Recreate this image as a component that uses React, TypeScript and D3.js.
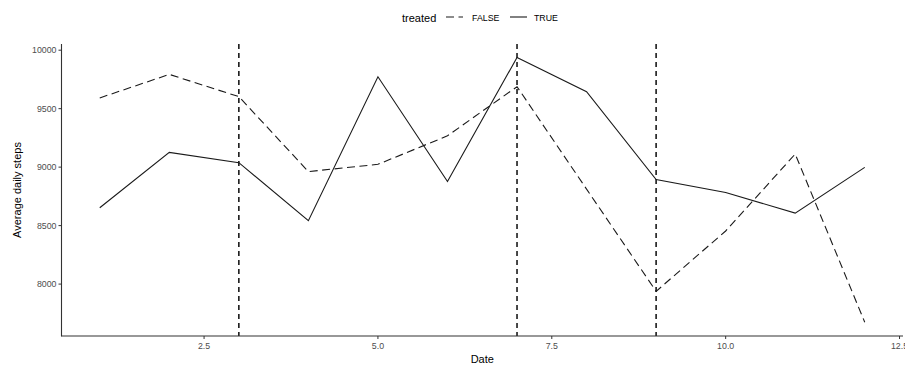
import React from "react";
import * as d3 from "d3";

const days = [1, 2, 3, 4, 5, 6, 7, 8, 9, 10, 11, 12];
const falseSteps = [9592, 9793, 9603, 8962, 9024, 9268, 9688, 8812, 7938, 8454, 9112, 7674];
const trueSteps = [8653, 9126, 9038, 8542, 9773, 8877, 9938, 9645, 8894, 8783, 8607, 8998];
const eventDays = [3, 7, 9];
const xTicks = [2.5, 5.0, 7.5, 10.0, 12.5];
const yTicks = [8000, 8500, 9000, 9500, 10000];
const seriesNames = ["FALSE", "TRUE"];

const W = 905;
const H = 369;
const left = 61.5;
const right = 903;
const top = 44;
const bottom = 336;
const FONT = "'Liberation Sans', Arial, Helvetica, sans-serif";

export default function App() {
  const x = d3.scaleLinear().domain([0.45, 12.55]).range([left, right]);
  const y = d3.scaleLinear().domain([7556, 10053]).range([bottom, top]);
  const line = d3
    .line<[number, number]>()
    .x((d) => x(d[0]))
    .y((d) => y(d[1]));
  const fPts = days.map((d, i) => [d, falseSteps[i]] as [number, number]);
  const tPts = days.map((d, i) => [d, trueSteps[i]] as [number, number]);

  return (
    <svg
      width={W}
      height={H}
      style={{ position: "absolute", left: 0, top: 0, background: "#fff" }}
      fontFamily={FONT}
    >
      {/* lines */}
      <path d={line(fPts) || ""} fill="none" stroke="#1a1a1a" strokeWidth={1.1} strokeDasharray="8,4.5" />
      <path d={line(tPts) || ""} fill="none" stroke="#1a1a1a" strokeWidth={1.1} />
      {/* event vlines */}
      {eventDays.map((d) => (
        <line
          key={d}
          x1={x(d)}
          x2={x(d)}
          y1={top}
          y2={bottom}
          stroke="#1a1a1a"
          strokeWidth={1.6}
          strokeDasharray="5,4"
        />
      ))}
      {/* axes */}
      <line x1={left} x2={left} y1={top} y2={bottom + 0.5} stroke="#333" strokeWidth={1.1} />
      <line x1={left} x2={right} y1={bottom} y2={bottom} stroke="#333" strokeWidth={1.1} />
      {yTicks.map((t) => (
        <g key={t}>
          <line x1={left - 3} x2={left} y1={y(t)} y2={y(t)} stroke="#333" strokeWidth={1} />
          <text x={left - 5} y={y(t)} dy="0.35em" textAnchor="end" fontSize={8.8} fill="#4d4d4d">
            {t}
          </text>
        </g>
      ))}
      {xTicks.map((t) => (
        <g key={t}>
          <line x1={x(t)} x2={x(t)} y1={bottom} y2={bottom + 3} stroke="#333" strokeWidth={1} />
          <text x={x(t)} y={bottom + 12.5} textAnchor="middle" fontSize={8.8} fill="#4d4d4d">
            {t.toFixed(1)}
          </text>
        </g>
      ))}
      <text x={(left + right) / 2} y={363} textAnchor="middle" fontSize={11} fill="#000">
        Date
      </text>
      <text
        transform={`translate(21,${(top + bottom) / 2}) rotate(-90)`}
        textAnchor="middle"
        fontSize={11}
        fill="#000"
      >
        Average daily steps
      </text>
      {/* legend */}
      <text x={402} y={21.5} fontSize={11} fill="#000">
        treated
      </text>
      <line x1={446} x2={463} y1={17} y2={17} stroke="#1a1a1a" strokeWidth={1.1} strokeDasharray="8,4.5" />
      <text x={472} y={21} fontSize={8.8} fill="#000">
        {seriesNames[0]}
      </text>
      <line x1={510} x2={527} y1={17} y2={17} stroke="#1a1a1a" strokeWidth={1.1} />
      <text x={534} y={21} fontSize={8.8} fill="#000">
        {seriesNames[1]}
      </text>
    </svg>
  );
}
